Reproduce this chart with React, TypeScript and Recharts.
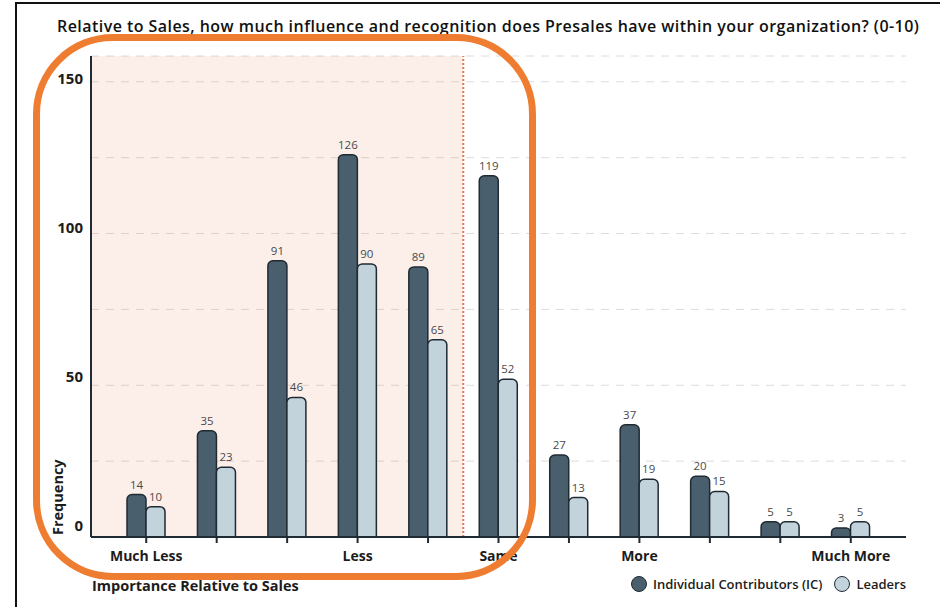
import React from 'react';
import {
  BarChart,
  Bar,
  XAxis,
  YAxis,
  CartesianGrid,
  LabelList,
  Legend,
  ReferenceArea,
  ReferenceLine,
} from 'recharts';

// 0-10 scale, answers counted per group
const categories = ['0', '1', '2', '3', '4', '5', '6', '7', '8', '9', '10'];
const icCounts = [14, 35, 91, 126, 89, 119, 27, 37, 20, 5, 3];
const leaderCounts = [10, 23, 46, 90, 65, 52, 13, 19, 15, 5, 5];
const scaleLabels: Record<string, string> = {
  '0': 'Much Less',
  '3': 'Less',
  '5': 'Same',
  '7': 'More',
  '10': 'Much More',
};
const yTicks = [0, 25, 50, 75, 100, 125, 150];
const yLabelled = [0, 50, 100, 150];

const IC_FILL = '#4a5f6d';
const LEADER_FILL = '#c3d3dc';
const OUTLINE = '#1f2a33';
const INK = '#1c1c1c';

const data = categories.map((cat, i) => ({ cat, ic: icCounts[i], leaders: leaderCounts[i] }));

const W = 940;
const H = 607;
const margin = { top: 56, right: 34, bottom: 10, left: 31 };
const Y_AXIS_W = 60;
const PLOT_LEFT = margin.left + Y_AXIS_W;

const YTick = ({ x, y, payload }: any) => {
  if (!yLabelled.includes(payload.value)) return null;
  // labels sit a little above their gridline
  const lift = -12 + (payload.value * 8) / 150;
  return (
    <text
      x={x}
      y={y + lift}
      textAnchor="end"
      dominantBaseline="central"
      fontSize={15}
      fontWeight={700}
      fill={INK}
    >
      {payload.value}
    </text>
  );
};

const XTick = ({ x, y, payload }: any) => {
  const text = scaleLabels[payload.value];
  if (!text) return null;
  return (
    <text x={x} y={y + 10} textAnchor="middle" dominantBaseline="central" fontSize={14} fontWeight={700} fill={INK}>
      {text}
    </text>
  );
};

const LegendRow = ({ payload }: any) => (
  <div
    style={{
      display: 'flex',
      justifyContent: 'flex-end',
      alignItems: 'center',
      height: 30,
      gap: 12,
      fontSize: 13,
      fontWeight: 600,
      color: INK,
      paddingTop: 3,
      boxSizing: 'border-box',
    }}
  >
    {(payload || []).map((p: any) => (
      <div key={p.value} style={{ display: 'flex', alignItems: 'center', gap: 6 }}>
        <span
          style={{
            width: 14,
            height: 14,
            borderRadius: '50%',
            background: p.color,
            border: `1.5px solid ${OUTLINE}`,
            display: 'inline-block',
          }}
        />
        <span>{p.value}</span>
      </div>
    ))}
  </div>
);

// shaded "less than sales" zone, stretched back to the y axis
const ZoneShape = (p: any) => (
  <rect
    x={PLOT_LEFT}
    y={p.y}
    width={p.x + p.width - PLOT_LEFT}
    height={p.height}
    fill="#e8825a"
    fillOpacity={0.13}
  />
);

export default function App() {
  return (
    <div
      style={{
        position: 'absolute',
        left: 0,
        top: 0,
        width: W,
        height: H,
        overflow: 'hidden',
        background: '#fff',
        fontFamily: "'Open Sans', sans-serif",
      }}
    >
      <div
        style={{
          position: 'absolute',
          left: 15,
          top: 2,
          width: 1000,
          height: 700,
          borderLeft: '2px solid #111',
          borderTop: '2px solid #111',
        }}
      />
      <div
        style={{
          position: 'absolute',
          left: 57,
          top: 15,
          fontSize: 16,
          letterSpacing: 0.45,
          fontWeight: 600,
          color: '#111',
          whiteSpace: 'nowrap',
        }}
      >
        Relative to Sales, how much influence and recognition does Presales have within your organization? (0-10)
      </div>
      <BarChart width={W} height={H} data={data} margin={margin} barSize={19} barGap={0}>
        <ReferenceArea x1="0" x2="4" shape={ZoneShape} ifOverflow="visible" />
        <CartesianGrid vertical={false} stroke="#dcdcdc" strokeDasharray="8 7" />
        <ReferenceLine x="4" position="end" stroke="#e07b50" strokeWidth={2} strokeDasharray="2 2" />
        <XAxis
          dataKey="cat"
          height={30}
          padding={{ left: 20, right: 20 }}
          interval={0}
          tick={<XTick />}
          tickSize={6}
          tickLine={{ stroke: OUTLINE, strokeWidth: 2 }}
          axisLine={{ stroke: OUTLINE, strokeWidth: 2 }}
          label={{
            content: ({ viewBox }: any) => (
              <text
                x={viewBox.x + 1}
                y={viewBox.y + 48}
                dominantBaseline="central"
                fontSize={14.5}
                fontWeight={700}
                fill={INK}
              >
                Importance Relative to Sales
              </text>
            ),
          }}
        />
        <YAxis
          width={Y_AXIS_W}
          domain={[0, 158.5]}
          ticks={yTicks}
          interval={0}
          tick={<YTick />}
          tickLine={false}
          axisLine={{ stroke: OUTLINE, strokeWidth: 2 }}
          label={{
            content: ({ viewBox }: any) => (
              <text
                transform={`translate(${viewBox.x + 26}, ${viewBox.y + viewBox.height - 2}) rotate(-90)`}
                textAnchor="start"
                dominantBaseline="central"
                fontSize={14.5}
                fontWeight={700}
                fill={INK}
              >
                Frequency
              </text>
            ),
          }}
        />
        <Legend verticalAlign="bottom" align="right" content={<LegendRow />} />
        <Bar
          dataKey="ic"
          name="Individual Contributors (IC)"
          fill={IC_FILL}
          stroke={OUTLINE}
          strokeWidth={1.5}
          radius={[5, 5, 0, 0]}
          isAnimationActive={false}
        >
          <LabelList dataKey="ic" position="top" offset={6} fontSize={11.5} fill="#4a4a4a" />
        </Bar>
        <Bar
          dataKey="leaders"
          name="Leaders"
          fill={LEADER_FILL}
          stroke={OUTLINE}
          strokeWidth={1.5}
          radius={[5, 5, 0, 0]}
          isAnimationActive={false}
        >
          <LabelList dataKey="leaders" position="top" offset={6} fontSize={11.5} fill="#4a4a4a" />
        </Bar>
      </BarChart>
      <div
        style={{
          position: 'absolute',
          left: 33,
          top: 34,
          width: 503,
          height: 546,
          boxSizing: 'border-box',
          border: '7px solid #ef7d31',
          borderRadius: 80,
          pointerEvents: 'none',
        }}
      />
    </div>
  );
}
